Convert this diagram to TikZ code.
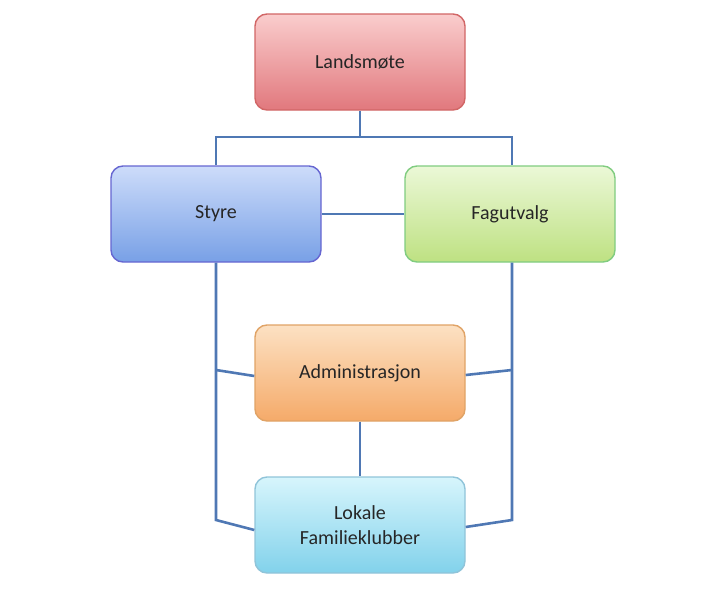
\documentclass[tikz,border=0pt]{standalone}
\usepackage{fontspec}
\setmainfont{Carlito}
\begin{document}
\begin{tikzpicture}[x=1pt,y=-1pt,
  box/.style={draw=#1,line width=1.4pt,rounded corners=12pt,minimum width=210pt,minimum height=96pt,align=center,font=\fontsize{20}{25}\selectfont,text=black!85},
  ln/.style={color={rgb,255:red,79;green,120;blue,180},line width=2.6pt}]
\useasboundingbox (0,0) rectangle (720,589);
\node[box=red!70!black!60!white, top color={rgb,255:red,250;green,205;blue,205}, bottom color={rgb,255:red,225;green,120;blue,125}] (l) at (360,62) {Landsmøte};
\node[box=blue!70!black!60!white, top color={rgb,255:red,205;green,220;blue,250}, bottom color={rgb,255:red,120;green,160;blue,230}] (s) at (216,214) {Styre};
\node[box=green!60!black!50!white, top color={rgb,255:red,235;green,248;blue,215}, bottom color={rgb,255:red,190;green,225;blue,130}] (f) at (510,214) {Fagutvalg};
\node[box=orange!80!black!60!white, top color={rgb,255:red,252;green,225;blue,195}, bottom color={rgb,255:red,245;green,170;blue,105}] (a) at (360,373) {Administrasjon};
\node[box=cyan!70!black!50!white, top color={rgb,255:red,215;green,245;blue,252}, bottom color={rgb,255:red,130;green,210;blue,235}] (k) at (360,525) {Lokale\\Familieklubber};
\coordinate (j) at (360,137);
\coordinate (sl) at (216,370);
\coordinate (sb) at (216,520);
\coordinate (fr) at (512,370);
\coordinate (fb) at (512,520);
\begin{scope}[on background layer/.try]
\draw[ln] (l.south) -- (j) -| (s.north);
\draw[ln] (j) -| (f.north -| fr);
\draw[ln] (s.east) -- (f.west);
\draw[ln] (s.south) -- (sb) -- ([yshift=-5pt]k.west);
\draw[ln] (sl) -- ([yshift=-3pt]a.west);
\draw[ln] (f.south -| fb) -- (fb) -- ([yshift=-2pt]k.east);
\draw[ln] (fr) -- ([yshift=-2pt]a.east);
\draw[ln] (a.south) -- (k.north);
\end{scope}
\end{tikzpicture}
\end{document}
